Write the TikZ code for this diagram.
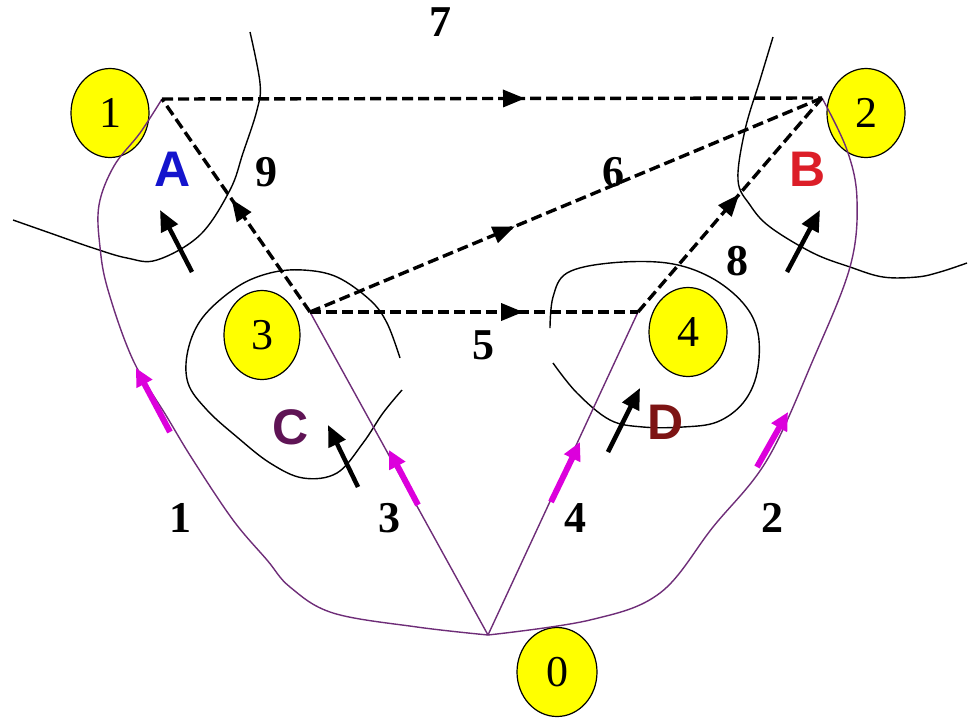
\documentclass[tikz,border=0pt]{standalone}
\usepackage{fontspec}
\setmainfont{Liberation Serif}
\newfontfamily\lettersans{Liberation Sans}
\usetikzlibrary{shapes.geometric,arrows.meta,decorations.markings}
\definecolor{nodeyellow}{RGB}{255,255,0}
\definecolor{lblue}{RGB}{20,20,205}
\definecolor{lred}{RGB}{220,30,40}
\definecolor{lpurple}{RGB}{95,20,85}
\definecolor{ldred}{RGB}{125,20,20}
\definecolor{mag}{RGB}{220,0,220}
\definecolor{pline}{RGB}{110,45,120}
\tikzset{
  vert/.style={ellipse, draw=black, line width=1.2pt, fill=nodeyellow, minimum width=78pt, minimum height=89pt, inner sep=0pt, font=\fontsize{44}{46}\selectfont},
  dashline/.style={line width=3.4pt, dash pattern=on 11pt off 5pt},
  midarrow/.style={postaction={decorate}, decoration={markings, mark=at position #1 with {\arrow{Triangle[length=22pt,width=17pt]}}}},
  pathline/.style={pline, line width=1.4pt},
  bound/.style={black, line width=1.4pt},
  magarrow/.style={mag, line width=6pt, -{Triangle[length=18pt,width=17pt]}},
  blackarrow/.style={black, line width=4.5pt, -{Triangle[length=21pt,width=18pt]}},
  numlbl/.style={font=\fontsize{44}{46}\selectfont\bfseries, inner sep=0pt},
  letlbl/.style={font=\fontsize{50}{52}\selectfont\lettersans\bfseries, inner sep=0pt}
}
\begin{document}
\begin{tikzpicture}[x=1pt, y=-1pt]
\useasboundingbox (0,0) rectangle (969,721);
% vertices
\node[vert] (n1) at (110,113) {1};
\node[vert] (n2) at (866,113) {2};
\node[vert, minimum width=76pt] (n3) at (262,335) {3};
\node[vert] (n4) at (688,332) {4};
\node[vert, minimum width=80pt] (n0) at (557,672) {0};
% junction points
\coordinate (p0) at (488,635);
\coordinate (p1) at (162,99);
\coordinate (p2) at (822,98);
\coordinate (p3) at (310,312);
\coordinate (p4) at (638,312);
% region boundaries
\draw[bound] plot[smooth, tension=0.6] coordinates {(13,220) (50,233) (93,248) (127,258) (157,260) (200,235) (230,190) (243,153) (257,110) (260,83) (250,32)};
\draw[bound] plot[smooth, tension=0.6] coordinates {(773,37) (760,80) (745,130) (738,180) (750,205) (770,227) (813,253) (850,267) (883,277) (917,277) (940,272) (967,263)};
\draw[bound] plot[smooth, tension=0.6] coordinates {(400,358) (387,323) (370,300) (337,277) (303,270) (270,273) (237,287) (203,317) (188,350) (188,383) (207,410) (237,437) (270,463) (303,478) (337,473) (363,443) (383,413) (402,390)};
\draw[bound] plot[smooth, tension=0.6] coordinates {(550,328) (553,297) (567,273) (610,263) (667,263) (710,277) (743,303) (758,333) (757,373) (743,403) (717,422) (683,427) (643,427) (610,420) (577,393) (553,363)};
% paths from 0
\draw[pathline] plot[smooth, tension=0.6] coordinates {(p0) (417,627) (333,613) (290,587) (267,560) (233,520) (193,460) (167,417) (133,360) (108,290) (100,247) (99,205) (114,166) (140,133) (p1)};
\draw[pathline] plot[smooth, tension=0.6] coordinates {(p0) (590,620) (660,593) (713,527) (767,460) (813,360) (850,267) (857,200) (847,150) (p2)};
\draw[pathline] (p0) -- (p3);
\draw[pathline] (p0) -- (p4);
% dashed connections
\draw[dashline, midarrow=0.55] (p1) -- (p2);
\draw[dashline, midarrow=0.53] (p3) -- (p1);
\draw[dashline, midarrow=0.40] (p3) -- (p2);
\draw[dashline, midarrow=0.65] (p3) -- (p4);
\draw[dashline, midarrow=0.55] (p4) -- (p2);
% magenta arrows
\coordinate (m1s) at (170,432); \coordinate (m1e) at (136,368);
\coordinate (m3s) at (418,505); \coordinate (m3e) at (389,450);
\coordinate (m4s) at (551,502); \coordinate (m4e) at (580,442);
\coordinate (m2s) at (757,467); \coordinate (m2e) at (788,412);
\draw[magarrow] (m1s) -- (m1e);
\draw[magarrow] (m3s) -- (m3e);
\draw[magarrow] (m4s) -- (m4e);
\draw[magarrow] (m2s) -- (m2e);
% black arrows
\coordinate (bAs) at (192,272); \coordinate (bAe) at (160,210);
\coordinate (bBs) at (787,272); \coordinate (bBe) at (820,210);
\coordinate (bCs) at (358,487); \coordinate (bCe) at (328,425);
\coordinate (bDs) at (608,452); \coordinate (bDe) at (640,388);
\draw[blackarrow] (bAs) -- (bAe);
\draw[blackarrow] (bBs) -- (bBe);
\draw[blackarrow] (bCs) -- (bCe);
\draw[blackarrow] (bDs) -- (bDe);
% labels
\node[numlbl] (l7) at (440,22) {7};
\node[numlbl] (l9) at (266,172) {9};
\node[numlbl] (l6) at (613,172) {6};
\node[numlbl] (l8) at (737,261) {8};
\node[numlbl] (l5) at (483,345) {5};
\node[numlbl] (l1) at (180,518) {1};
\node[numlbl] (l3) at (389,518) {3};
\node[numlbl] (l4) at (575,518) {4};
\node[numlbl] (l2) at (772,518) {2};
\node[letlbl, lblue] (lA) at (173,169) {A};
\node[letlbl, lred] (lB) at (808,169) {B};
\node[letlbl, lpurple] (lC) at (291,427) {C};
\node[letlbl, ldred] (lD) at (666,422) {D};
\end{tikzpicture}
\end{document}
